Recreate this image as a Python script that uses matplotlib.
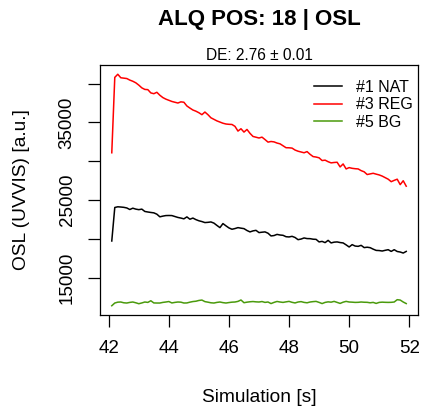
import numpy as np
import matplotlib
matplotlib.use("Agg")
import matplotlib.pyplot as plt

plt.rcParams['font.family'] = ['Liberation Sans', 'DejaVu Sans']

time_s = [round(42.1 + 0.1 * i, 1) for i in range(99)]

nat = [19750, 24060, 24150, 24120, 24080, 24000, 23800, 23970, 23850, 23780,
       23850, 23550, 23480, 23420, 23370, 23200, 22860, 22950, 23020, 23030,
       23020, 22900, 22780, 22700, 22600, 22850, 22550, 22700, 22500, 22350,
       22250, 22120, 22150, 22200, 22050, 21750, 21470, 21990, 21700, 21430,
       21260, 21350, 21470, 21400, 21340, 21100, 20920, 21050, 21120, 20830,
       20880, 20920, 20750, 20400, 20450, 20600, 20520, 20480, 20300, 20270,
       20350, 20200, 19920, 20000, 20140, 20060, 20050, 19980, 19960, 19630,
       19700, 19540, 19830, 19500, 19600, 19630, 19550, 19500, 19250, 18980,
       19280, 19100, 19060, 19190, 18900, 18950, 18890, 18700, 18540, 18520,
       18460, 18550, 18630, 18410, 18630, 18400, 18330, 18200, 18410]

reg = [31100, 40800, 41200, 40750, 40700, 40650, 40450, 40300, 40100, 39800,
       39450, 39250, 39220, 38800, 38700, 38880, 38500, 38200, 38000, 37850,
       37700, 37600, 37500, 37650, 37600, 37120, 36850, 36600, 36450, 36250,
       36000, 36340, 36000, 35600, 35400, 35200, 35050, 34900, 34800, 34760,
       34740, 34500, 33890, 34190, 33760, 34100, 33600, 33200, 33100, 33000,
       33110, 32800, 32470, 32550, 32500, 32350, 32250, 32000, 31750, 31740,
       31700, 31450, 31300, 31200, 31100, 31250, 30900, 30610, 30550, 30450,
       30100, 30150, 29950, 29800, 29850, 29880, 29280, 29660, 29020, 29190,
       29100, 29050, 29020, 28800, 28650, 28300, 28380, 28460, 28350, 28250,
       28100, 27900, 27700, 27380, 27550, 27700, 27000, 27500, 26800]

bg = [11420, 11770, 11880, 11900, 11800, 11770, 11850, 11900, 11800, 11680,
      11780, 11900, 11850, 12060, 11780, 11770, 11770, 11850, 11900, 11960,
      11780, 11850, 11900, 11880, 11770, 11780, 11880, 11960, 12000, 12100,
      12150, 11950, 11880, 11800, 11770, 11850, 11900, 11820, 11770, 11830,
      11880, 11900, 11980, 12160, 11810, 11880, 11930, 11960, 11920, 11900,
      11960, 11850, 11900, 11700, 11850, 11970, 11900, 11850, 11920, 11980,
      11860, 11780, 11900, 11950, 11850, 11800, 11900, 11950, 11980, 11850,
      11700, 11850, 11920, 11880, 11980, 11850, 11720, 11880, 11980, 11900,
      11880, 11850, 11860, 11900, 11870, 11860, 11800, 11850, 11720, 11850,
      11880, 11860, 11850, 11860, 11900, 12200, 12150, 11900, 11700]

labels = ["#1 NAT", "#3 REG", "#5 BG"]
colors = ["black", "#FF0000", "#4A9A0C"]
x_ticks = [42, 44, 46, 48, 50, 52]
y_ticks = [15000, 20000, 25000, 30000, 35000, 40000]
y_ticklabels = ["15000", "", "25000", "", "35000", ""]

W, H = 422, 413
fig = plt.figure(figsize=(W / 100, H / 100), dpi=100)
L, R, T, B = 100, 418, 65, 315
ax = fig.add_axes([L / W, 1 - B / H, (R - L) / W, (B - T) / H])

for y, lab, c in zip([nat, reg, bg], labels, colors):
    ax.plot(time_s, y, color=c, lw=1.1, label=lab)

allv = np.concatenate([nat, reg, bg])
ymin, ymax = allv.min(), allv.max()
yr = ymax - ymin
ax.set_ylim(ymin - 0.04 * yr, ymax + 0.04 * yr)
xmin, xmax = min(time_s), max(time_s)
xr = xmax - xmin
ax.set_xlim(xmin - 0.04 * xr, xmax + 0.04 * xr)

ax.set_xticks(x_ticks)
ax.set_xticklabels([str(v) for v in x_ticks])
ax.set_yticks(y_ticks)
ax.set_yticklabels(y_ticklabels, rotation=90, va='center')
ax.tick_params(axis='both', direction='out', length=8.4, width=0.9,
               labelsize=13.5, colors='black')
ax.tick_params(axis='x', pad=9.5)
ax.tick_params(axis='y', pad=9)
for s in ax.spines.values():
    s.set_linewidth(0.9)
    s.set_color('black')

leg = ax.legend(loc='upper left', bbox_to_anchor=(0.672, 0.941), frameon=False,
                fontsize=11.5, handlelength=1.75, handletextpad=0.9,
                labelspacing=0.15, borderpad=0, borderaxespad=0)

fig.text(259 / W, 1 - 19 / H, "ALQ POS: 18 | OSL", ha='center', va='center',
         fontsize=16, fontweight='bold')
fig.text(259 / W, 1 - 55.7 / H, "DE: 2.76 \u00b1 0.01", ha='center', va='center',
         fontsize=11.2)
fig.text(259 / W, 1 - 397 / H, "Simulation [s]", ha='center', va='center',
         fontsize=13.8)
fig.text(22 / W, 1 - 190 / H, "OSL (UVVIS) [a.u.]", ha='center', va='center',
         fontsize=13.8, rotation=90)

fig.savefig("out.png", dpi=100)
